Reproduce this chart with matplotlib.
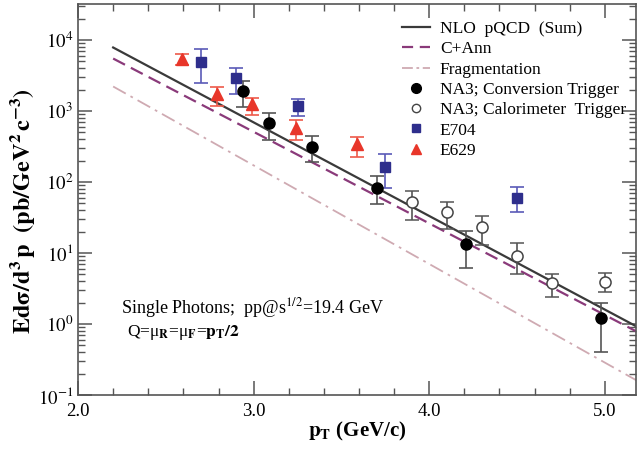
import numpy as np
import matplotlib.pyplot as plt
from matplotlib.lines import Line2D
from matplotlib.ticker import FixedLocator, LogLocator, NullFormatter, FuncFormatter

plt.rcParams['font.family'] = 'Liberation Serif'
plt.rcParams['mathtext.fontset'] = 'stix'

# theory curves (straight on log scale)
x_theory = [2.2, 5.2]
nlo_sum = [7830, 0.87]
c_ann = [5470, 0.74]
frag = [2210, 0.151]

# NA3 conversion trigger
na3c_x = [2.94, 3.09, 3.33, 3.70, 4.21, 4.98]
na3c_y = [1930, 671, 314, 83.2, 13.3, 1.20]
na3c_lo = [1150, 391, 189, 48.5, 6.1, 0.41]
na3c_hi = [2670, 946, 445, 122, 20.6, 2.0]

# NA3 calorimeter trigger
na3k_x = [3.90, 4.10, 4.30, 4.50, 4.70, 5.00]
na3k_y = [52.8, 37.4, 23.0, 9.07, 3.74, 3.94]
na3k_lo = [29.2, 21.6, 12.8, 5.06, 2.42, 2.85]
na3k_hi = [75.3, 52.8, 32.9, 13.7, 5.06, 5.28]

# E704
e704_x = [2.70, 2.90, 3.25, 3.75, 4.50]
e704_y = [4940, 2890, 1175, 164, 58.9]
e704_lo = [2455, 1718, 859, 83.2, 38.2]
e704_hi = [7400, 4075, 1476, 248, 85.9]

# E629
e629_x = [2.59, 2.79, 2.99, 3.24, 3.59]
e629_y = [5350, 1734, 1256, 582, 343]
e629_lo = [4450, 1175, 879, 391, 227]
e629_hi = [6300, 2157, 1510, 747, 427]

def yerr(y, lo, hi):
    y = np.array(y)
    return [y - np.array(lo), np.array(hi) - y]

fig = plt.figure(figsize=(6.37, 4.53), dpi=100)
ax = fig.add_axes([0.1225, 0.128, 0.8755, 0.863])

ax.plot(x_theory, nlo_sum, color='#3a3a3a', lw=1.6)
ax.plot(x_theory, c_ann, color='#8a3a7a', lw=1.6, ls=(0, (6, 3)))
ax.plot(x_theory, frag, color='#cfaab2', lw=1.3, ls=(0, (8, 3, 1.5, 3)))

ax.errorbar(na3c_x, na3c_y, yerr=yerr(na3c_y, na3c_lo, na3c_hi), fmt='o', color='black',
            ms=8, ecolor='#555555', elinewidth=1.2, capsize=5, capthick=1.2, zorder=5)
ax.errorbar(na3k_x, na3k_y, yerr=yerr(na3k_y, na3k_lo, na3k_hi), fmt='o', mfc='white',
            mec='#444444', mew=1.1, ms=8, ecolor='#555555', elinewidth=1.2, capsize=5,
            capthick=1.2, zorder=5)
ax.errorbar(e704_x, e704_y, yerr=yerr(e704_y, e704_lo, e704_hi), fmt='s', color='#2e2e8c',
            ms=7, ecolor='#5a5ab8', elinewidth=1.2, capsize=5, capthick=1.2, zorder=5)
ax.errorbar(e629_x, e629_y, yerr=yerr(e629_y, e629_lo, e629_hi), fmt='^', color='#e8362a',
            ms=8, ecolor='#ee5a4a', elinewidth=1.2, capsize=5, capthick=1.2, zorder=5)

ax.set_yscale('log')
ax.set_xlim(2.0, 5.176)
ax.set_ylim(0.1, 3.2e4)

ax.xaxis.set_major_locator(FixedLocator([2.0, 3.0, 4.0, 5.0]))
ax.xaxis.set_minor_locator(FixedLocator(np.arange(2.0, 5.25, 0.2)))
ax.xaxis.set_major_formatter(FuncFormatter(lambda v, p: f'{v:.1f}'))
ax.yaxis.set_major_locator(LogLocator(base=10, numticks=10))
ax.yaxis.set_minor_locator(LogLocator(base=10, subs=np.arange(2, 10), numticks=20))
ax.yaxis.set_minor_formatter(NullFormatter())
ax.yaxis.set_major_formatter(FuncFormatter(lambda v, p: r'$10^{%d}$' % round(np.log10(v))))

ax.tick_params(which='both', direction='in', top=True, right=True, colors='#555555',
               labelcolor='black', labelsize=13.5)
ax.tick_params(axis='x', pad=6)
ax.tick_params(which='major', length=10, width=1.1)
ax.tick_params(which='minor', length=5, width=1.0)
for s in ax.spines.values():
    s.set_color('#555555')
    s.set_linewidth(1.2)

ax.set_xlabel(r'$\mathbf{p_T}$ (GeV/c)', fontsize=15, fontweight='bold', labelpad=0)
ax.set_ylabel(r'$\mathbf{Ed\sigma/d^{3}\,p\ \ (pb/GeV^{2}\,c^{-3})}$', fontsize=17.5)
ax.yaxis.set_label_coords(-0.074, 0.47)

ax.text(0.077, 0.21, r'Single Photons;  pp@s$^{1/2}$=19.4 GeV', transform=ax.transAxes,
        fontsize=13)
ax.text(0.088, 0.15, r'Q=μ$_\mathbf{R}$=μ$_\mathbf{F}$=$\mathbf{p_T/2}$',
        transform=ax.transAxes, fontsize=12.5)

handles = [
    Line2D([], [], color='#3a3a3a', lw=1.6),
    Line2D([], [], color='#8a3a7a', lw=1.6, ls=(0, (5, 3))),
    Line2D([], [], color='#cfaab2', lw=1.3, ls=(0, (6, 2, 1.5, 2))),
    Line2D([], [], ls='none', marker='o', color='black', ms=7),
    Line2D([], [], ls='none', marker='o', mfc='white', mec='#444444', ms=6),
    Line2D([], [], ls='none', marker='s', color='#2e2e8c', ms=6),
    Line2D([], [], ls='none', marker='^', color='#e8362a', ms=7),
]
labels = ['NLO  pQCD  (Sum)', 'C+Ann', 'Fragmentation', 'NA3; Conversion Trigger',
          'NA3; Calorimeter  Trigger', 'E704', 'E629']
ax.legend(handles, labels, loc='upper left', bbox_to_anchor=(0.568, 0.975), frameon=False,
          fontsize=12.5, handlelength=1.6, handletextpad=0.6, labelspacing=0.24,
          borderaxespad=0)

fig.savefig('out.png', dpi=100)
